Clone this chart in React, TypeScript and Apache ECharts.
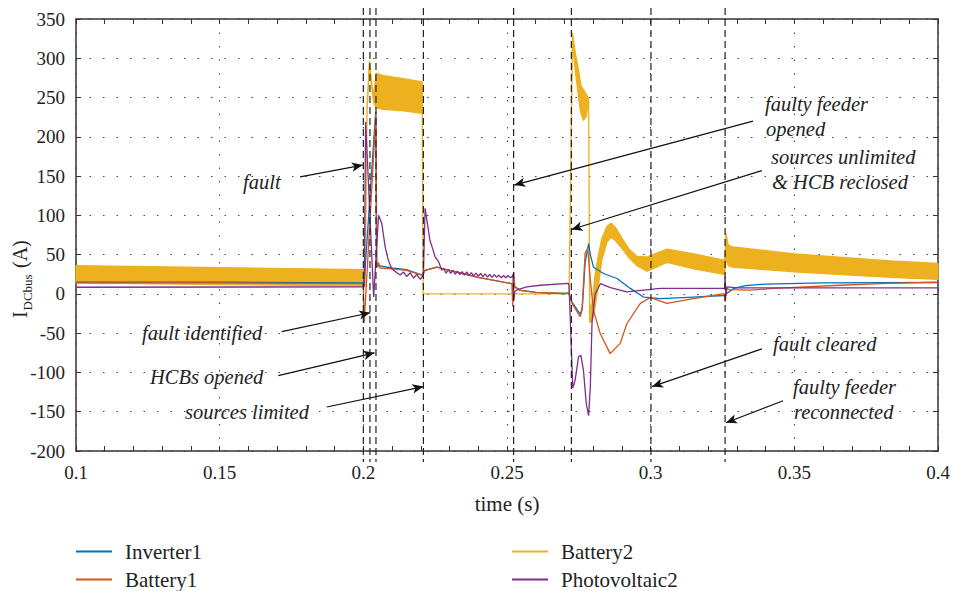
import React, { useEffect, useRef } from 'react';
import * as echarts from 'echarts';

// ---------- data ----------
// Inverter1 (blue)
const invT = [0.1, 0.15, 0.2, 0.2004, 0.2043, 0.2046, 0.2053, 0.21, 0.215, 0.2205, 0.2215, 0.2256, 0.23, 0.24, 0.2517, 0.2527, 0.2547, 0.26, 0.27, 0.2715, 0.2726, 0.2755, 0.2762, 0.2772, 0.2784, 0.279, 0.2801, 0.2836, 0.2883, 0.2929, 0.2975, 0.3033, 0.3149, 0.3254, 0.3262, 0.329, 0.333, 0.34, 0.36, 0.4];
const invV = [15, 15, 14, 20, 232, 34, 36, 33, 31, 24, 30, 34, 30, 21, 13, 9, 4.5, 2, 0.5, 1, -10, -26, -18, 40, 64, 50, 34, 26, 19.6, 7, -4, -6, -4, -2, 0, 7, 10.5, 12.5, 14, 14.5];

// Battery1 (orange)
const bat1T = [0.1, 0.15, 0.2, 0.2003, 0.2044, 0.2047, 0.2053, 0.2058, 0.21, 0.215, 0.2205, 0.2215, 0.2256, 0.23, 0.24, 0.2517, 0.252, 0.2523, 0.2527, 0.2547, 0.26, 0.27, 0.2715, 0.2726, 0.2755, 0.2761, 0.2772, 0.2781, 0.279, 0.2801, 0.2824, 0.2859, 0.2894, 0.2917, 0.2964, 0.2999, 0.3057, 0.3149, 0.3255, 0.326, 0.3263, 0.3275, 0.3347, 0.3428, 0.366, 0.38, 0.4];
const bat1V = [14, 14, 13, -37, 230, 34, 40, 33, 32, 30, 24, 30, 34, 30, 21, 13, -16, 28, 9, 4.5, 2, 0.5, 1, -12, -29, -21, 52, 58, 17.5, -21, -50, -76, -63, -38, -12, -4.6, -12, -6, 0.5, -10, 7, 5.5, 4.7, 7, 11, 13, 15];

// Battery2 (yellow) – envelope of the fast ripple
const bat2T = [0.1, 0.15, 0.2, 0.2004, 0.2006, 0.2013, 0.2021, 0.2035, 0.2044, 0.207, 0.214, 0.2205, 0.2208, 0.2714, 0.2716, 0.2728, 0.2738, 0.2749, 0.2757, 0.2766, 0.2776, 0.2784, 0.2788, 0.2796, 0.2807, 0.2819, 0.283, 0.2848, 0.2862, 0.2877, 0.29, 0.2925, 0.2952, 0.2987, 0.3001, 0.3057, 0.315, 0.3255, 0.3258, 0.3262, 0.327, 0.3285, 0.35, 0.3835, 0.4];
const bat2Upper = [36, 33.5, 31, 31, 12, 240, 296, 250, 281, 278, 274, 270, 0, 0, 0, 332, 306, 285, 266, 260, 254, 249, -20, -12, 26, 51, 70, 86, 90, 85, 71, 57, 48, 47, 49, 57, 51, 43, 44, 77, 62, 60, 51, 42, 39];
const bat2Lower = [14, 12, 10, 10, 10, 232, 290, 245, 237, 235, 233, 230, 0, 0, 0, 320, 283, 250, 230, 221, 226, 247, -36, -36, -16, 13, 43, 66, 72, 68, 58, 46, 36, 29, 31, 40, 32, 25, 25, 45, 36, 34, 28, 21, 18.5];

// Photovoltaic2 (purple)
const pvT = [0.1, 0.2, 0.2003, 0.2008, 0.2036, 0.2053, 0.2064, 0.2076, 0.2087, 0.2099, 0.2117, 0.2128, 0.214, 0.2151, 0.2163, 0.2175, 0.2186, 0.2198, 0.2205, 0.2209, 0.2215, 0.2232, 0.2241, 0.225, 0.2262, 0.2273, 0.228, 0.2288, 0.2296, 0.2304, 0.2312, 0.232, 0.2328, 0.2336, 0.2344, 0.2352, 0.236, 0.2368, 0.2376, 0.2384, 0.2392, 0.24, 0.2408, 0.2416, 0.2424, 0.2432, 0.244, 0.2448, 0.2456, 0.2464, 0.2472, 0.248, 0.2488, 0.2496, 0.2504, 0.2512, 0.2518, 0.2521, 0.2524, 0.2527, 0.2535, 0.2569, 0.2616, 0.2714, 0.2716, 0.2729, 0.2737, 0.2749, 0.2757, 0.2766, 0.2776, 0.2784, 0.279, 0.2796, 0.2807, 0.2825, 0.286, 0.2917, 0.3033, 0.3257, 0.3259, 0.3262, 0.3266, 0.33, 0.4];
const pvV = [8.5, 9, 9, 219, -4, 100, 90, 60, 43, 32, 27, 24, 28, 22, 27, 20, 25, 18.5, 22, 24, 109, 68, 58, 47, 41, 30, 32, 26.5, 31, 26, 30, 25, 29, 24.5, 28.5, 24, 28, 23.5, 27, 23, 26.5, 22.5, 26, 22, 25.5, 21.5, 25, 21, 24.5, 21, 24, 20.5, 23.5, 20.5, 23, 20.5, 22, 25, -8, 3, 5, 9, 11, 13.5, 10, -120, -110, -80, -78, -97, -140, -155, -118, -35, 0, 13, 8, 2.5, 7, 7, 22, -3, 9, 7.6, 7.6];

// event instants (dashed vertical lines)
const eventTimes = [0.2, 0.2023, 0.2044, 0.2209, 0.2523, 0.2724, 0.3001, 0.3259];
const eventSpan = [-214, 364];

// annotations: text lines and arrow tail/head in data units
const annoTexts = [
  ['fault'], ['fault identified'], ['HCBs opened'], ['sources limited'],
  ['faulty feeder', 'opened'], ['sources unlimited', '& HCB reclosed'],
  ['fault cleared'], ['faulty feeder', 'reconnected'],
];
const arrowTail = [[0.178, 149], [0.1716, -48], [0.1704, -104], [0.1873, -144], [0.3356, 220], [0.3387, 157], [0.3387, -70], [0.3461, -136]];
const arrowHead = [[0.1998, 164], [0.2024, -24], [0.2039, -75], [0.2209, -118], [0.2525, 138.5], [0.2724, 82], [0.3005, -118], [0.3262, -164]];

const legendCol1 = ['Inverter1', 'Battery1'];
const legendCol2 = ['Battery2', 'Photovoltaic2'];

// ---------- styling ----------
const SERIF = "'Liberation Serif', 'Times New Roman', serif";
const COLORS: Record<string, string> = {
  Inverter1: '#0072BD',
  Battery1: '#D95319',
  Battery2: '#EDB120',
  Photovoltaic2: '#7E2F8E',
};
const TEXT = '#222';
const AXIS = '#333';

// pixel placement of annotation texts (layout only)
const annoPos = [
  [243, 182], [142, 333], [150, 377], [185, 412],
  [765, 104], [771, 157], [773, 344], [793, 387],
];

const zip = (t: number[], v: number[]) => t.map((x, i) => [x, v[i]]);

export default function App() {
  const ref = useRef<HTMLDivElement>(null);
  useEffect(() => {
    const chart = echarts.init(ref.current!, null, { renderer: 'svg' });

    const lineSeries = (name: string, t: number[], v: number[]) => ({
      type: 'line',
      name,
      data: zip(t, v),
      showSymbol: false,
      symbol: 'none',
      lineStyle: { color: COLORS[name], width: 1.3 },
      itemStyle: { color: COLORS[name] },
      silent: true,
      z: 2,
    });

    const bandSeries = {
      type: 'custom',
      name: 'Battery2',
      coordinateSystem: 'cartesian2d',
      data: [[bat2T[0], bat2Upper[0]]],
      encode: { x: 0, y: 1 },
      itemStyle: { color: COLORS.Battery2 },
      silent: true,
      z: 2,
      renderItem: (_p: any, api: any) => {
        const pts: number[][] = [];
        for (let i = 0; i < bat2T.length; i++) pts.push(api.coord([bat2T[i], bat2Upper[i]]));
        for (let i = bat2T.length - 1; i >= 0; i--) pts.push(api.coord([bat2T[i], bat2Lower[i]]));
        return {
          type: 'polygon',
          shape: { points: pts },
          style: { fill: COLORS.Battery2, stroke: COLORS.Battery2, lineWidth: 1.3, lineJoin: 'round' },
        };
      },
    };

    const eventSeries = eventTimes.map((t, k) => ({
      type: 'line',
      name: 'event' + k,
      data: [[t, eventSpan[1]], [t, eventSpan[0]]],
      clip: false,
      showSymbol: false,
      symbol: 'none',
      silent: true,
      z: 5,
      lineStyle: { color: '#222', width: 1.2, type: [7, 4] },
      ...(k === 0
        ? {
            markLine: {
              silent: true,
              symbol: ['none', 'arrow'],
              symbolSize: [7, 11],
              label: { show: false },
              lineStyle: { color: '#111', width: 1.2, type: 'solid' },
              emphasis: { disabled: true },
              data: arrowTail.map((a, i) => [{ coord: a }, { coord: arrowHead[i] }]),
            },
          }
        : {}),
    }));

    const graphicTexts: any[] = [];
    annoTexts.forEach((lines, i) => {
      lines.forEach((txt, j) => {
        graphicTexts.push({
          type: 'text',
          x: annoPos[i][0] + (j > 0 ? 1 : 0),
          y: annoPos[i][1] + j * 25,
          silent: true,
          style: {
            text: txt,
            font: `italic 20.5px ${SERIF}`,
            fill: TEXT,
            align: 'left',
            verticalAlign: 'middle',
            textAlign: 'left',
            textVerticalAlign: 'middle',
          },
        });
      });
    });

    const yName = {
      type: 'group',
      x: 30,
      y: 318,
      rotation: Math.PI / 2,
      silent: true,
      children: [
        { type: 'text', x: 0, y: 0, style: { text: 'I', font: `20px ${SERIF}`, fill: TEXT, align: 'left', verticalAlign: 'bottom', textAlign: 'left', textVerticalAlign: 'bottom' } },
        { type: 'text', x: 7.5, y: 4, style: { text: 'DCbus', font: `13px ${SERIF}`, fill: TEXT, align: 'left', verticalAlign: 'bottom', textAlign: 'left', textVerticalAlign: 'bottom' } },
        { type: 'text', x: 50, y: 0, style: { text: '(A)', font: `20px ${SERIF}`, fill: TEXT, align: 'left', verticalAlign: 'bottom', textAlign: 'left', textVerticalAlign: 'bottom' } },
      ],
    };

    const tickCommon = { inside: true, length: 5, lineStyle: { color: AXIS, width: 1 } };
    const axisLineCommon = { show: true, onZero: false, lineStyle: { color: AXIS, width: 1.5 } };
    const gridLine = { show: true, lineStyle: { color: '#444', width: 1, type: [1.5, 12] } };
    const labelCommon = { color: TEXT, fontFamily: SERIF, fontSize: 19 };

    const legendCommon = {
      orient: 'vertical',
      top: 541,
      padding: 0,
      icon: 'rect',
      itemWidth: 36,
      itemHeight: 2,
      itemGap: 7,
      selectedMode: false,
      textStyle: { color: TEXT, fontFamily: SERIF, fontSize: 21, lineHeight: 20, padding: [0, 0, 0, 8] },
    };

    chart.setOption({
      animation: false,
      backgroundColor: '#fff',
      grid: { left: 76, right: 15, top: 19, bottom: 140, containLabel: false, outerBoundsMode: 'none' },
      xAxis: [
        {
          type: 'value', min: 0.1, max: 0.4, interval: 0.05, position: 'bottom',
          axisLine: axisLineCommon, axisTick: tickCommon,
          minorTick: { show: true, splitNumber: 5, length: 5, lineStyle: { color: AXIS, width: 1 } },
          axisLabel: { ...labelCommon, margin: 12 },
          splitLine: gridLine,
          name: 'time (s)', nameLocation: 'middle', nameGap: 42,
          nameTextStyle: { color: TEXT, fontFamily: SERIF, fontSize: 21 },
        },
        {
          type: 'value', min: 0.1, max: 0.4, interval: 0.05, position: 'top',
          axisLine: axisLineCommon, axisTick: tickCommon,
          minorTick: { show: true, splitNumber: 5, length: 5, lineStyle: { color: AXIS, width: 1 } },
          axisLabel: { show: false }, splitLine: { show: false },
        },
      ],
      yAxis: [
        {
          type: 'value', min: -200, max: 350, interval: 50, position: 'left',
          axisLine: axisLineCommon, axisTick: tickCommon,
          axisLabel: { ...labelCommon, margin: 11 },
          splitLine: gridLine,
        },
        {
          type: 'value', min: -200, max: 350, interval: 50, position: 'right',
          axisLine: axisLineCommon, axisTick: tickCommon,
          axisLabel: { show: false }, splitLine: { show: false },
        },
      ],
      legend: [
        { ...legendCommon, left: 76, data: legendCol1 },
        { ...legendCommon, left: 512, data: legendCol2 },
      ],
      series: [
        lineSeries('Inverter1', invT, invV),
        lineSeries('Battery1', bat1T, bat1V),
        bandSeries,
        lineSeries('Photovoltaic2', pvT, pvV),
        ...eventSeries,
      ],
      graphic: [...graphicTexts, yName],
    });

    return () => chart.dispose();
  }, []);

  return (
    <div
      ref={ref}
      style={{ position: 'fixed', left: 0, top: 0, width: 953, height: 591, background: '#fff' }}
    />
  );
}
